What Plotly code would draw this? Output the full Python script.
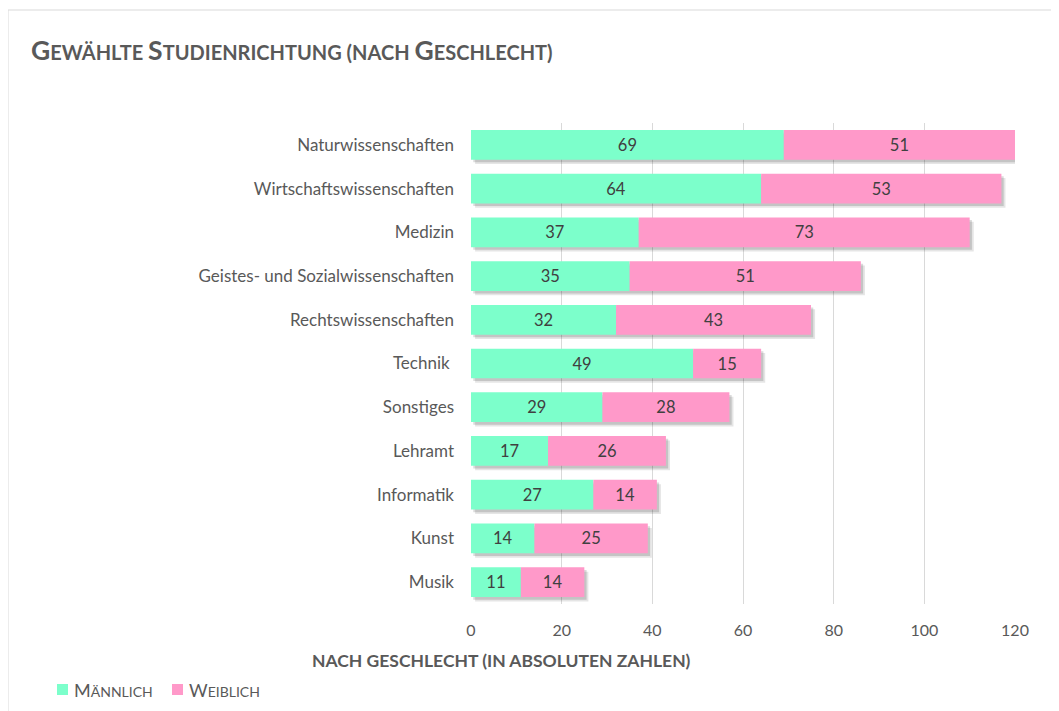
import plotly.graph_objects as go

categories = ["Naturwissenschaften", "Wirtschaftswissenschaften", "Medizin",
              "Geistes- und Sozialwissenschaften", "Rechtswissenschaften", "Technik ",
              "Sonstiges", "Lehramt", "Informatik", "Kunst", "Musik"]
maennlich = [69, 64, 37, 35, 32, 49, 29, 17, 27, 14, 11]
weiblich = [51, 53, 73, 51, 43, 15, 28, 26, 14, 25, 14]
x_ticks = [0, 20, 40, 60, 80, 100, 120]
series_names = ['<span style="font-size:18px">M</span>ÄNNLICH',
                '<span style="font-size:18px">W</span>EIBLICH']

totals = [m + w for m, w in zip(maennlich, weiblich)]

GREEN = "#7CFFCB"
PINK = "#FF99C9"
FONT = "Lato"
W = 0.68

# the page body adds an 8px margin; work in page coordinates and shift
OFF = 8
FW, FH = 1059 - OFF, 711 - OFF

fig = go.Figure()

# soft drop shadow (two layers)
for dx, dy, a in [(0.9, 0.10, 0.10), (0.5, 0.06, 0.14)]:
    fig.add_trace(go.Bar(
        y=categories, x=totals, base=[dx] * len(totals), orientation="h",
        width=W, offset=-W / 2 + dy,
        marker=dict(color=f"rgba(0,0,0,{a})", line=dict(width=0)),
        showlegend=False, hoverinfo="skip"))

fig.add_trace(go.Bar(
    y=categories, x=maennlich, orientation="h", width=W, offset=-W / 2,
    name="Männlich", showlegend=False,
    marker=dict(color=GREEN, line=dict(width=0)),
    text=maennlich, textposition="inside", insidetextanchor="middle",
    textfont=dict(family=FONT, size=16.5, color="#404040"), textangle=0))

fig.add_trace(go.Bar(
    y=categories, x=weiblich, base=maennlich, orientation="h", width=W, offset=-W / 2,
    name="Weiblich", showlegend=False,
    marker=dict(color=PINK, line=dict(width=0)),
    text=weiblich, textposition="inside", insidetextanchor="middle",
    textfont=dict(family=FONT, size=16.5, color="#404040"), textangle=0))

# page-coordinate plot area: x 471..1015, y 123..604
L, R = 471 - OFF, 1059 - 1015
T, B = 123 - OFF, 711 - 604
PW, PH = FW - L - R, FH - T - B

def px(x):
    return (x - OFF - L) / PW

def py(y):
    return (FH - B - (y - OFF)) / PH

shapes = [
    dict(type="line", xref="paper", yref="paper", x0=px(8), x1=px(1070), y0=py(10), y1=py(10),
         line=dict(color="#D9D9D9", width=1)),
    dict(type="line", xref="paper", yref="paper", x0=px(8), x1=px(8), y0=py(10), y1=py(720),
         line=dict(color="#D9D9D9", width=1)),
]
annotations = [
    dict(text='<b><span style="font-size:26.5px">G</span>EWÄHLTE '
              '<span style="font-size:26.5px">S</span>TUDIENRICHTUNG '
              '(NACH <span style="font-size:26.5px">G</span>ESCHLECHT)</b>',
         xref="paper", yref="paper", x=px(29), y=py(50), xanchor="left", yanchor="middle",
         showarrow=False, font=dict(family=FONT, size=20, color="#595959")),
    dict(text="<b>NACH GESCHLECHT (IN ABSOLUTEN ZAHLEN)</b>",
         xref="paper", yref="paper", x=px(501), y=py(660), xanchor="center", yanchor="middle",
         showarrow=False, font=dict(family=FONT, size=17.5, color="#595959")),
]

# legend drawn as swatches + labels
legend_x = [57, 172]
for lx, name, col in zip(legend_x, series_names, [GREEN, PINK]):
    shapes.append(dict(type="rect", xref="paper", yref="paper",
                       x0=px(lx), x1=px(lx + 11), y0=py(684), y1=py(695),
                       fillcolor=col, line=dict(width=0)))
    annotations.append(dict(text=name, xref="paper", yref="paper",
                            x=px(lx + 15), y=py(690), xanchor="left", yanchor="middle",
                            showarrow=False, font=dict(family=FONT, size=14, color="#595959")))

fig.update_layout(
    width=FW, height=FH,
    margin=dict(l=L, r=R, t=T, b=B),
    barmode="overlay",
    paper_bgcolor="white", plot_bgcolor="white",
    font=dict(family=FONT, size=16, color="#595959"),
    showlegend=False,
    xaxis=dict(range=[0, 120], tickvals=x_ticks, showgrid=True, gridcolor="#D9D9D9",
               gridwidth=1, zeroline=False, showline=False,
               tickfont=dict(family=FONT, size=16, color="#595959"), ticks="",
               ticklabelstandoff=15, fixedrange=True),
    yaxis=dict(categoryorder="array", categoryarray=categories, autorange="reversed",
               showgrid=False, zeroline=False, showline=False, ticks="",
               ticklabelstandoff=16,
               tickfont=dict(family=FONT, size=17, color="#595959")),
    annotations=annotations,
    shapes=shapes,
)

fig.write_html("out.html")
